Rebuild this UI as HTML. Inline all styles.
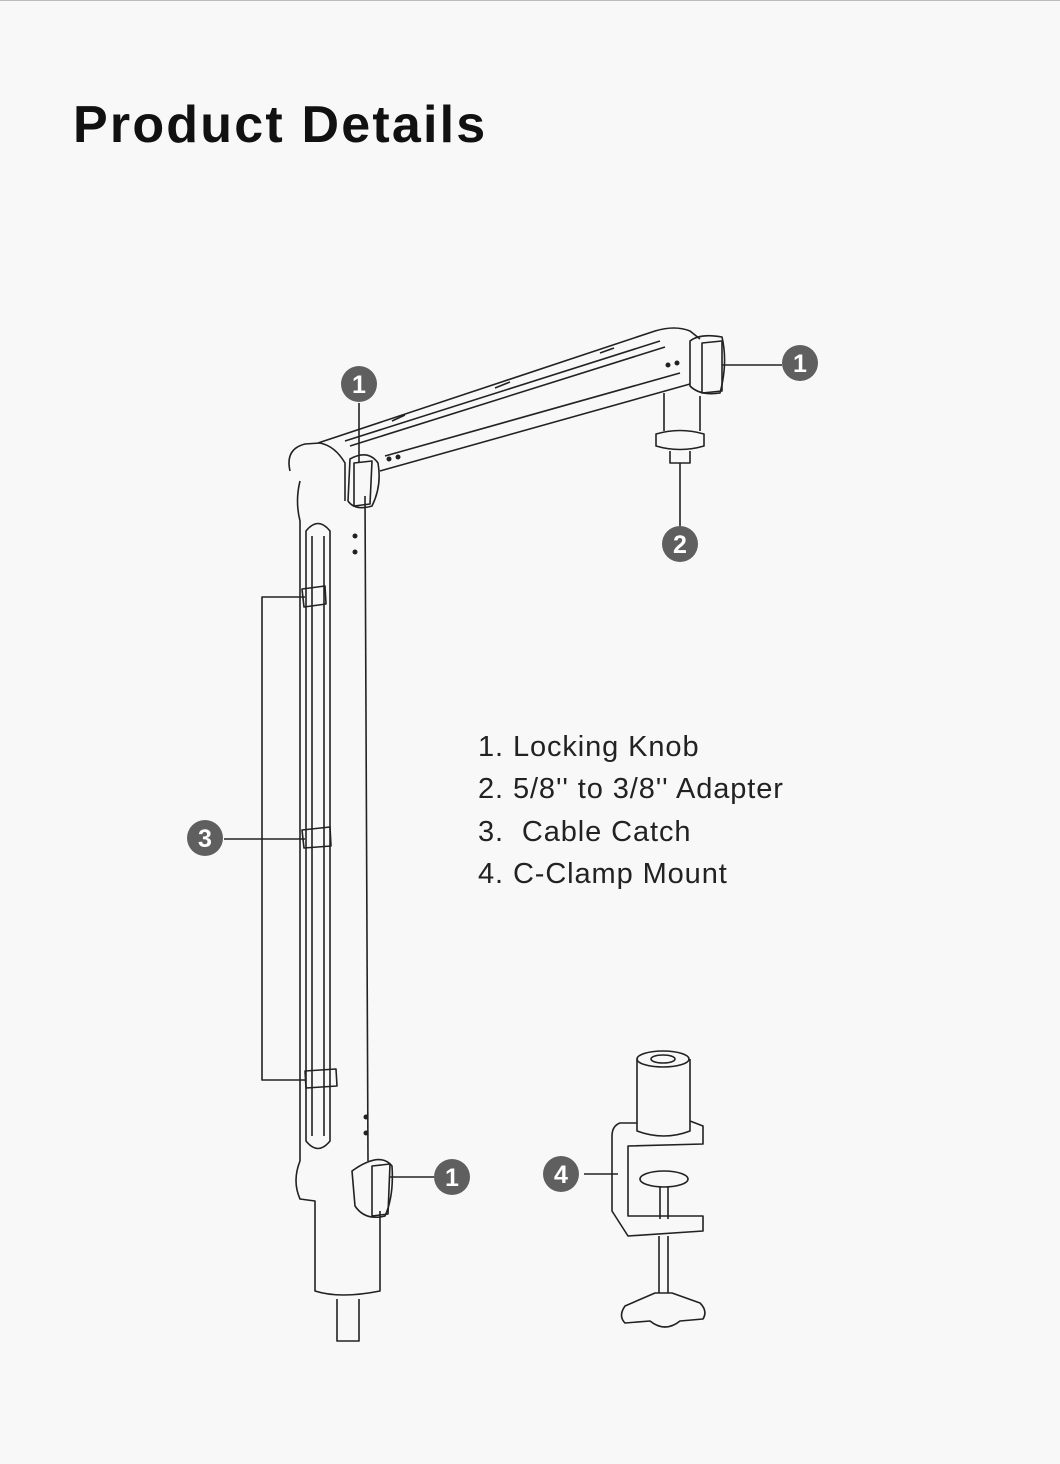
<!DOCTYPE html>
<html><head><style>
body{margin:0;background:#f8f8f8;}
.w{position:relative;width:1060px;height:1464px;overflow:hidden;background:#f8f8f8;border-top:1px solid #bbb;box-sizing:border-box}
h1{position:absolute;left:73px;top:94px;margin:0;font:bold 52px "Liberation Sans",sans-serif;color:#111;letter-spacing:2.2px}
.l{position:absolute;left:478px;font:29px "Liberation Sans",sans-serif;color:#222;letter-spacing:0.9px}
svg{position:absolute;left:0;top:0}
</style></head><body><div class="w">
<h1>Product Details</h1>
<svg width="1060" height="1464" fill="none" stroke="#222" stroke-width="1.6" stroke-linejoin="round">
<path d="M318 442 L655 330 Q675 324 690 330 L700 338"/>
<path d="M380 470 L690 383"/>
<path d="M385 455 L680 372"/>
<path d="M345 440 L660 340 M350 445 L665 346"/>
<path d="M392 420 L405 414 M495 387 L510 381 M600 352 L614 347"/>
<path d="M690 340 Q700 332 722 336 Q728 362 720 392 Q700 395 690 385 Z"/>
<path d="M702 342 L722 340 L722 390 L702 392 Z"/>
<path d="M664 392 L664 430 M700 395 L700 430"/>
<path d="M656 433 Q680 426 704 433 L704 445 Q680 452 656 445 Z"/>
<path d="M670 450 L670 462 L690 462 L690 450"/>
<line x1="680" y1="462" x2="680" y2="525"/>
<line x1="722" y1="364" x2="782" y2="364"/>
<path d="M290 470 Q285 448 305 443 L320 442 Q335 445 345 462 L345 500"/>
<path d="M300 480 Q295 500 300 520 L300 1160"/>
<path d="M365 495 L368 1160"/>
<path d="M350 458 Q368 448 378 462 Q382 485 372 505 Q355 510 348 500 Z"/>
<path d="M354 462 L372 460 L370 503 L354 505 Z"/>
<line x1="359" y1="402" x2="359" y2="462"/>
<path d="M306 530 Q318 515 330 530 L330 1140 Q318 1155 306 1140 Z"/>
<path d="M312 535 L312 1135 M324 535 L324 1135"/>
<path d="M302 588 L325 585 L326 603 L304 606 Z M302 829 L330 826 L331 845 L304 847 Z M305 1070 L336 1068 L337 1085 L306 1087 Z"/>
<path d="M300 1160 Q292 1180 300 1198 L315 1200 L315 1290 Q340 1298 380 1290 L380 1210"/>
<path d="M352 1170 Q380 1150 392 1165 Q394 1195 385 1215 Q365 1220 355 1205 Z"/>
<path d="M372 1165 L390 1163 L388 1213 L372 1215 Z"/>
<line x1="390" y1="1176" x2="434" y2="1176"/>
<path d="M337 1298 L337 1340 L359 1340 L359 1298"/>
<path d="M305 596 L262 596 L262 1079 L305 1079 M224 838 L305 838"/>
<path d="M637 1058 L637 1130 Q664 1140 690 1130 L690 1058"/>
<ellipse cx="663" cy="1058" rx="26" ry="8"/>
<ellipse cx="663" cy="1058" rx="12" ry="4"/>
<path d="M637 1122 L620 1122 Q612 1125 612 1135 L612 1210 L628 1235 L703 1230 L703 1215 L628 1215 L628 1145 L703 1143 L703 1125 L690 1120"/>
<ellipse cx="664" cy="1178" rx="24" ry="8"/>
<path d="M660 1186 L660 1218 M668 1186 L668 1218"/>
<path d="M659 1235 L659 1292 M668 1235 L668 1292"/>
<path d="M655 1292 L625 1305 Q618 1315 625 1322 L650 1320 Q665 1332 680 1320 L703 1318 Q708 1310 700 1302 L672 1292 Z"/>
<line x1="584" y1="1173" x2="618" y2="1173"/>
<g stroke="none" fill="#222">
<circle cx="389" cy="458" r="2.5"/><circle cx="398" cy="456" r="2.5"/>
<circle cx="668" cy="364" r="2.5"/><circle cx="677" cy="362" r="2.5"/>
<circle cx="355" cy="535" r="2.5"/><circle cx="355" cy="551" r="2.5"/>
<circle cx="366" cy="1116" r="2.5"/><circle cx="366" cy="1132" r="2.5"/>
</g>
<g stroke="none" fill="#5f5f5f">
<circle cx="359" cy="383" r="18"/><circle cx="800" cy="362" r="18"/><circle cx="452" cy="1176" r="18"/>
<circle cx="680" cy="543" r="18"/><circle cx="205" cy="837" r="18"/><circle cx="561" cy="1173" r="18"/>
</g>
<g stroke="none" fill="#fff" font-family="Liberation Sans,sans-serif" font-size="25" font-weight="bold" text-anchor="middle">
<text x="359" y="392">1</text><text x="800" y="371">1</text><text x="452" y="1185">1</text>
<text x="680" y="552">2</text><text x="205" y="846">3</text><text x="561" y="1182">4</text>
</g>
</svg>
<div class="l" style="top:730px">1. Locking Knob</div>
<div class="l" style="top:772px">2. 5/8'' to 3/8'' Adapter</div>
<div class="l" style="top:815px">3.&nbsp; Cable Catch</div>
<div class="l" style="top:857px">4. C-Clamp Mount</div>
</div></body></html>
